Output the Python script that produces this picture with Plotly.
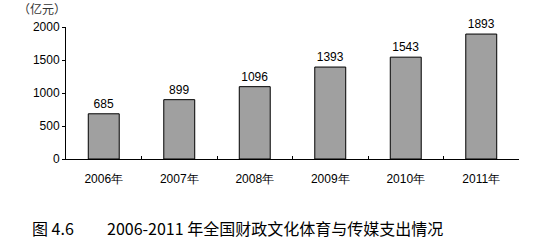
import plotly.graph_objects as go

years = ["2006年", "2007年", "2008年", "2009年", "2010年", "2011年"]
values = [685, 899, 1096, 1393, 1543, 1893]
y_ticks = [0, 500, 1000, 1500, 2000]
unit_label = "（亿元）"
caption_num = "图 4.6"
caption_text = "2006-2011 年全国财政文化体育与传媒支出情况"

fig = go.Figure()
fig.add_trace(go.Bar(
    x=years, y=values,
    marker=dict(color="#a0a0a0", line=dict(color="black", width=1)),
    width=0.41,
    text=[str(v) for v in values],
    textposition="outside",
    textfont=dict(family="Liberation Sans, Arial", size=12, color="black"),
    cliponaxis=False,
))

fig.update_layout(
    width=538, height=243,
    margin=dict(l=66, r=19, t=27, b=84),
    paper_bgcolor="white", plot_bgcolor="white",
    showlegend=False,
    font=dict(family="Liberation Sans, Arial", size=12, color="black"),
    xaxis=dict(
        showline=True, linecolor="black", linewidth=1,
        ticks="inside", ticklen=3, tickcolor="black",
        tickson="boundaries",
        ticklabelstandoff=9,
        tickfont=dict(size=12),
        showgrid=False,
    ),
    yaxis=dict(
        range=[0, 2000],
        tickvals=y_ticks,
        showline=True, linecolor="black", linewidth=1,
        ticks="outside", ticklen=3, tickcolor="black",
        showgrid=False, zeroline=False,
        tickfont=dict(size=12),
    ),
    annotations=[
        dict(text=unit_label, xref="paper", yref="paper", x=-0.053, y=1.06,
             xanchor="center", yanchor="bottom", showarrow=False,
             font=dict(family="Noto Sans CJK SC", size=12, color="#333")),
        dict(text=caption_num, xref="paper", yref="paper", x=-0.0795, y=-0.52,
             xanchor="left", yanchor="middle", showarrow=False,
             font=dict(family="Noto Sans CJK SC", size=16, color="black")),
        dict(text=caption_text, xref="paper", yref="paper", x=0.0861, y=-0.52,
             xanchor="left", yanchor="middle", showarrow=False,
             font=dict(family="Noto Sans CJK SC", size=16, color="black")),
    ],
)

fig.write_html("out.html")
